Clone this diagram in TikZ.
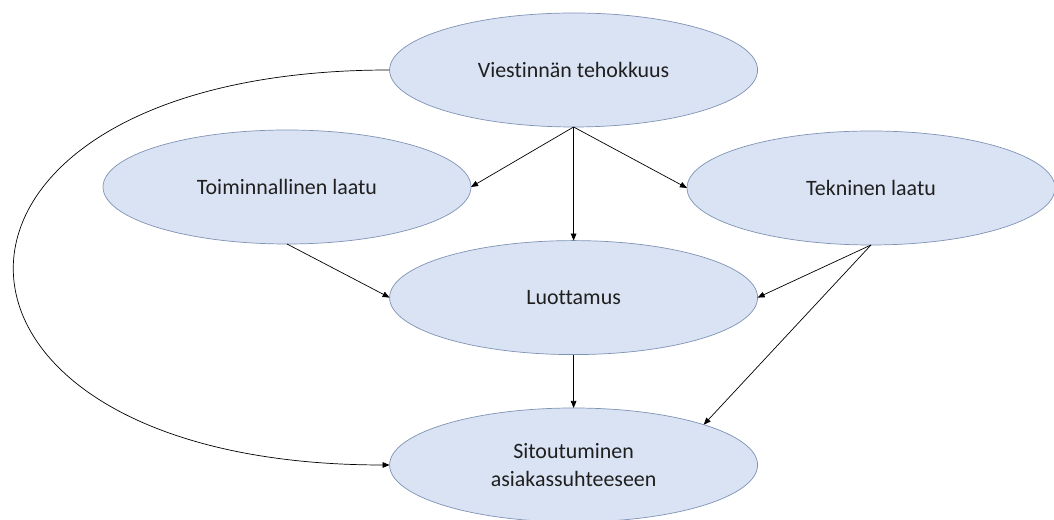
\documentclass[tikz,border=0pt]{standalone}
\usepackage{fontspec}
\setmainfont[Ligatures=NoCommon]{Carlito}
\usetikzlibrary{shapes.geometric,arrows.meta}
\definecolor{ellfill}{HTML}{DAE3F3}
\definecolor{elldraw}{HTML}{7F93B5}
\tikzset{
    factor/.style={ellipse,draw=elldraw,fill=ellfill,line width=0.5pt,
        minimum width=9.2cm,minimum height=2.85cm,inner sep=0pt,outer sep=0pt,
        align=center,font=\fontsize{15.6}{19.5}\selectfont,text=black!88},
    link/.style={-{Triangle[length=5pt,width=4pt]},line width=0.5pt}
}
\begin{document}
\begin{tikzpicture}
        \useasboundingbox (0,0) rectangle (26.35,13);

        %factors
        \node[factor] (viest) at (14.34,11.25) {Viestinnän tehokkuus};
        \node[factor] (toim) at (7.175,8.325) {Toiminnallinen laatu};
        \node[factor] (tekn) at (21.775,8.3) {Tekninen laatu};
        \node[factor] (luott) at (14.34,5.56) {Luottamus};
        \node[factor] (sitout) at (14.34,1.375) {Sitoutuminen\\asiakassuhteeseen};

        %links
        \draw[link] (viest.south) -- (toim.east);
        \draw[link] (viest.south) -- (tekn.west);
        \draw[link] (viest.south) -- (luott.north);
        \draw[link] (toim.south) -- (luott.west);
        \draw[link] (tekn.south) -- (luott.east);
        \draw[link] (tekn.south) -- (sitout.north east);
        \draw[link] (luott.south) -- (sitout.north);
        \draw[link] (viest.west) to[out=180,in=180,looseness=3.25] (sitout.west);

    \end{tikzpicture}
\end{document}
